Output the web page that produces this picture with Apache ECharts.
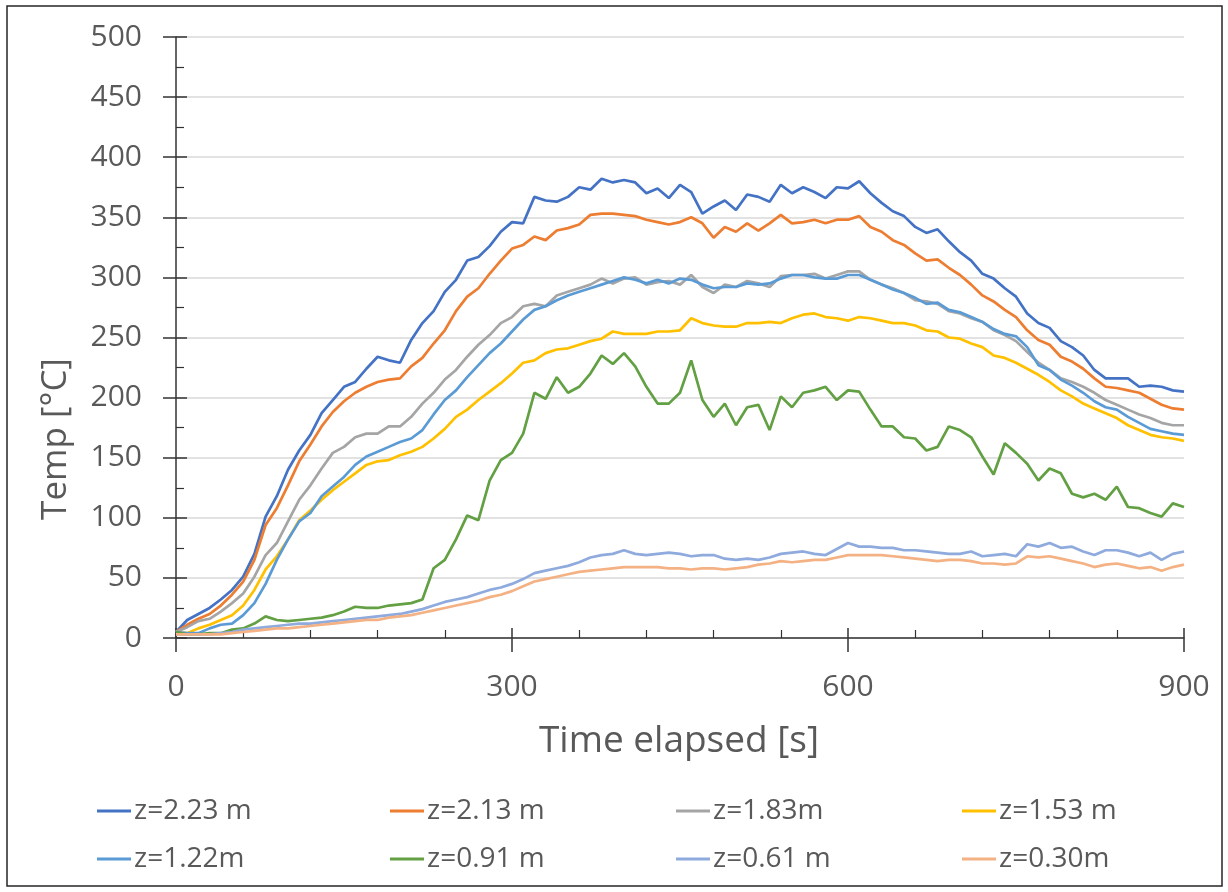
<!DOCTYPE html>
<html>
<head>
<meta charset="utf-8">
<title>Temperature vs time</title>
<script src="https://cdn.jsdelivr.net/npm/echarts@6/dist/echarts.min.js"></script>
<style>
  html, body { margin: 0; padding: 0; background: #fff; }
  #chart { width: 1228px; height: 892px; }
</style>
</head>
<body>
<div id="chart"></div>
<script>
// Sampling times in seconds (one reading every 10 s)
const times = [
  0,10,20,30,40,50,60,70,80,90,
  100,110,120,130,140,150,160,170,180,190,
  200,210,220,230,240,250,260,270,280,290,
  300,310,320,330,340,350,360,370,380,390,
  400,410,420,430,440,450,460,470,480,490,
  500,510,520,530,540,550,560,570,580,590,
  600,610,620,630,640,650,660,670,680,690,
  700,710,720,730,740,750,760,770,780,790,
  800,810,820,830,840,850,860,870,880,890,
  900
];

// Temperatures in °C at each thermocouple height
const tz223 = [
  5,15,20,25,32,40,51,70,101,118,
  140,156,169,187,198,209,213,224,234,231,
  229,248,262,272,288,298,314,317,326,338,
  346,345,367,364,363,367,375,373,382,379,
  381,379,370,374,366,377,371,353,359,364,
  356,369,367,363,377,370,375,371,366,375,
  374,380,370,362,355,351,342,337,340,330,
  321,314,303,299,291,284,270,262,258,247,
  242,235,223,216,216,216,209,210,209,206,
  205
];
const tz213 = [
  5,11,16,20,27,36,47,65,94,108,
  127,147,161,176,188,197,204,209,213,215,
  216,226,233,245,256,272,284,291,303,314,
  324,327,334,331,339,341,344,352,353,353,
  352,351,348,346,344,346,350,345,333,342,
  338,345,339,345,352,345,346,348,345,348,
  348,351,342,338,331,327,320,314,315,308,
  302,294,285,280,273,267,256,248,244,234,
  230,224,216,209,208,206,204,199,194,191,
  190
];
const tz183 = [
  5,9,14,16,22,29,37,51,69,79,
  97,115,127,141,154,159,167,170,170,176,
  176,184,195,204,215,223,234,244,252,262,
  267,276,278,276,285,288,291,294,299,295,
  299,300,294,296,297,294,302,292,287,294,
  292,297,295,292,301,302,302,303,299,302,
  305,305,298,294,291,287,281,280,278,272,
  270,266,263,256,252,247,238,229,223,216,
  213,209,204,198,194,190,186,183,179,177,
  177
];
const tz153 = [
  5,4,8,11,15,19,27,40,57,68,
  82,98,106,115,123,130,137,144,147,148,
  152,155,159,166,174,184,190,198,205,212,
  220,229,231,237,240,241,244,247,249,255,
  253,253,253,255,255,256,266,262,260,259,
  259,262,262,263,262,266,269,270,267,266,
  264,267,266,264,262,262,260,256,255,250,
  249,245,242,235,233,229,224,219,213,206,
  201,195,191,187,183,177,173,169,167,166,
  164
];
const tz122 = [
  5,4,4,8,11,12,19,29,45,65,
  82,97,104,118,126,134,144,151,155,159,
  163,166,173,186,198,206,217,227,237,245,
  255,265,273,276,281,285,288,291,294,297,
  300,298,295,298,295,299,298,294,291,292,
  292,295,294,295,299,302,302,300,299,299,
  302,302,298,294,290,287,283,278,279,273,
  271,267,263,257,253,251,242,227,223,215,
  210,204,197,192,190,184,179,174,172,170,
  169
];
const tz091 = [
  5,3,3,4,4,7,8,12,18,15,
  14,15,16,17,19,22,26,25,25,27,
  28,29,32,58,65,82,102,98,131,148,
  154,170,204,199,217,204,209,220,235,228,
  237,226,209,195,195,204,231,198,184,195,
  177,192,194,173,201,192,204,206,209,198,
  206,205,190,176,176,167,166,156,159,176,
  173,167,151,136,162,154,145,131,141,137,
  120,117,120,115,126,109,108,104,101,112,
  109
];
const tz061 = [
  3,3,3,3,4,5,7,8,9,10,
  11,12,12,13,14,15,16,17,18,19,
  20,22,24,27,30,32,34,37,40,42,
  45,49,54,56,58,60,63,67,69,70,
  73,70,69,70,71,70,68,69,69,66,
  65,66,65,67,70,71,72,70,69,74,
  79,76,76,75,75,73,73,72,71,70,
  70,72,68,69,70,68,78,76,79,75,
  76,72,69,73,73,71,68,71,65,70,
  72
];
const tz030 = [
  3,3,3,3,3,4,5,6,7,8,
  8,9,10,11,12,13,14,15,15,17,
  18,19,21,23,25,27,29,31,34,36,
  39,43,47,49,51,53,55,56,57,58,
  59,59,59,59,58,58,57,58,58,57,
  58,59,61,62,64,63,64,65,65,67,
  69,69,69,69,68,67,66,65,64,65,
  65,64,62,62,61,62,68,67,68,66,
  64,62,59,61,62,60,58,59,56,59,
  61
];

const seriesNames = ['z=2.23 m', 'z=2.13 m', 'z=1.83m', 'z=1.53 m',
                     'z=1.22m', 'z=0.91 m', 'z=0.61 m', 'z=0.30m'];
const seriesValues = [tz223, tz213, tz183, tz153, tz122, tz091, tz061, tz030];
const seriesColors = ['#4472C4', '#ED7D31', '#A5A5A5', '#FFC000',
                      '#5B9BD5', '#62A043', '#8FAADC', '#F4B183'];

const xTitle = 'Time elapsed [s]';
const yTitle = 'Temp [°C]';

const FONT = '"Open Sans", "Liberation Sans", sans-serif';
const TEXT_COLOR = '#595959';
const AXIS_COLOR = '#333333';

const chart = echarts.init(document.getElementById('chart'), null, { renderer: 'canvas' });

const series = seriesNames.map((name, i) => ({
  name: name,
  type: 'line',
  xAxisIndex: 0,
  yAxisIndex: 0,
  data: times.map((t, k) => [t, seriesValues[i][k]]),
  showSymbol: false,
  symbol: 'none',
  smooth: false,
  lineStyle: { color: seriesColors[i], width: 2.7 },
  itemStyle: { color: seriesColors[i] },
  emphasis: { disabled: true },
  animation: false
}));

// Legend: two rows of four entries
const legendCols = [97, 390, 676, 962];
const legendRows = [797, 845];
const legends = seriesNames.map((name, i) => ({
  data: [name],
  left: legendCols[i % 4],
  top: legendRows[Math.floor(i / 4)],
  icon: 'rect',
  itemWidth: 34,
  itemHeight: 3,
  itemGap: 0,
  selectedMode: false,
  padding: 0,
  textStyle: { fontFamily: FONT, fontSize: 28, color: TEXT_COLOR, padding: [0, 0, 0, -2] }
}));

const xRange = { min: 0, max: 900, interval: 300 };
const yRange = { min: 0, max: 500, interval: 50 };

chart.setOption({
  backgroundColor: '#ffffff',
  animation: false,
  grid: { left: 176, right: 44, top: 37, bottom: 254, containLabel: false },
  legend: legends,
  xAxis: [
    {
      type: 'value', position: 'bottom', ...xRange,
      axisLine: { show: true, lineStyle: { color: AXIS_COLOR, width: 1.5 } },
      axisTick: { show: true, inside: false, length: 14, lineStyle: { color: AXIS_COLOR, width: 1.5 } },
      minorTick: { show: false },
      axisLabel: { show: true, margin: 34, fontFamily: FONT, fontSize: 30, color: TEXT_COLOR },
      splitLine: { show: false }
    },
    {
      type: 'value', position: 'bottom', offset: 0, ...xRange,
      axisLine: { show: false },
      axisTick: { show: true, inside: true, length: 10, lineStyle: { color: AXIS_COLOR, width: 1.5 } },
      minorTick: { show: true, splitNumber: 5, length: 8, lineStyle: { color: AXIS_COLOR, width: 1.2 } },
      axisLabel: { show: false },
      splitLine: { show: false }
    }
  ],
  yAxis: [
    {
      type: 'value', position: 'left', ...yRange,
      axisLine: { show: true, lineStyle: { color: AXIS_COLOR, width: 1.5 } },
      axisTick: { show: true, inside: false, length: 13, lineStyle: { color: AXIS_COLOR, width: 1.5 } },
      minorTick: { show: false },
      axisLabel: { show: true, margin: 34, fontFamily: FONT, fontSize: 30, color: TEXT_COLOR },
      splitLine: { show: true, lineStyle: { color: '#d9d9d9', width: 1.5 } }
    },
    {
      type: 'value', position: 'left', offset: 0, ...yRange,
      axisLine: { show: false },
      axisTick: { show: true, inside: true, length: 11, lineStyle: { color: AXIS_COLOR, width: 1.5 } },
      minorTick: { show: true, splitNumber: 2, length: 8, lineStyle: { color: AXIS_COLOR, width: 1.2 } },
      axisLabel: { show: false },
      splitLine: { show: false }
    }
  ],
  graphic: [
    {
      type: 'rect', silent: true, z: -1,
      shape: { x: 7, y: 6, width: 1215, height: 880 },
      style: { fill: 'none', stroke: '#262626', lineWidth: 1.5 }
    },
    {
      type: 'text', silent: true,
      x: 56, y: 439, rotation: Math.PI / 2,
      style: { text: yTitle, fontFamily: FONT, fontSize: 35, fill: TEXT_COLOR,
               textAlign: 'center', textVerticalAlign: 'middle' }
    },
    {
      type: 'text', silent: true,
      x: 679, y: 741,
      style: { text: xTitle, fontFamily: FONT, fontSize: 37, fill: TEXT_COLOR,
               textAlign: 'center', textVerticalAlign: 'middle' }
    }
  ],
  series: series
});
</script>
</body>
</html>
